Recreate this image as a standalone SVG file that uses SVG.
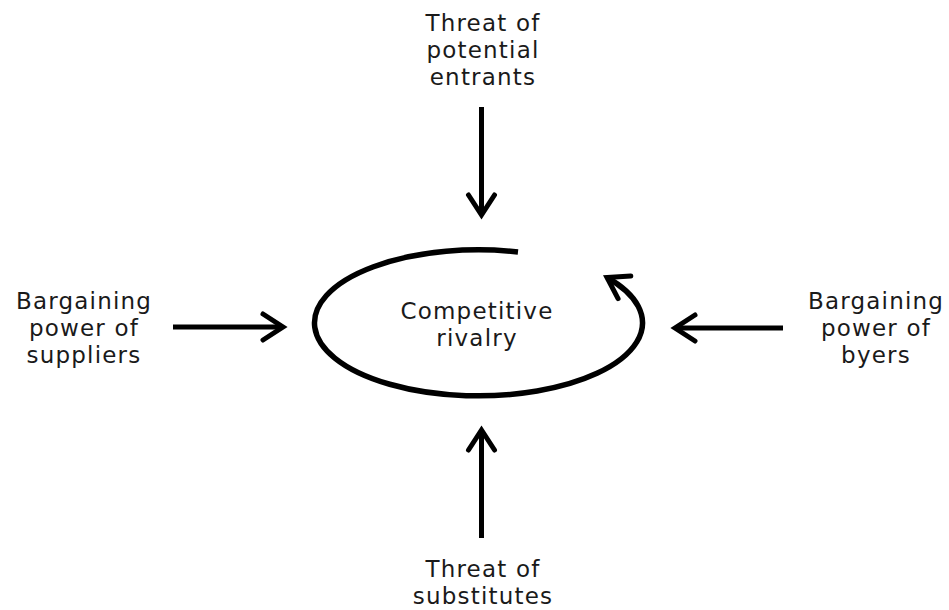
<svg xmlns="http://www.w3.org/2000/svg" width="949" height="610" viewBox="0 0 949 610">
<style>
.t{font-family:"DejaVu Sans","Liberation Sans",sans-serif;font-size:23px;letter-spacing:1.2px;fill:#1a1a1a;text-anchor:middle}
.c{fill:none;stroke:#000;stroke-width:5;stroke-linecap:butt}
</style>
<defs>
<marker id="ah" markerUnits="userSpaceOnUse" orient="auto" overflow="visible" markerWidth="1" markerHeight="1" refX="0" refY="0">
<path d="M-20,-13 L0,0 L-20,13" fill="none" stroke="#000" stroke-width="5" stroke-linecap="round" stroke-linejoin="miter"/>
</marker>
</defs>
<rect width="949" height="610" fill="#fff"/>
<g id="connectors">
<path class="c" d="M481.5,107 L481.5,215" marker-end="url(#ah)"/>
<path class="c" d="M173,327 L283,327" marker-end="url(#ah)"/>
<path class="c" d="M783,328 L675,328" marker-end="url(#ah)"/>
<path class="c" d="M481.5,538 L481.5,430" marker-end="url(#ah)"/>
<path class="c" style="stroke-width:5.5" d="M518,252 A164,73 0 1,0 607,277.5" marker-end="url(#ah)"/>
</g>
<g id="rivalry">
<text class="t" x="477" y="319">Competitive</text>
<text class="t" x="477" y="346">rivalry</text>
</g>
<g id="entrants">
<text class="t" x="483" y="31">Threat of</text>
<text class="t" x="483" y="58">potential</text>
<text class="t" x="483" y="85">entrants</text>
</g>
<g id="suppliers">
<text class="t" x="84" y="309">Bargaining</text>
<text class="t" x="84" y="336">power of</text>
<text class="t" x="84" y="363">suppliers</text>
</g>
<g id="buyers">
<text class="t" x="876" y="309">Bargaining</text>
<text class="t" x="876" y="336">power of</text>
<text class="t" x="876" y="363">byers</text>
</g>
<g id="substitutes">
<text class="t" x="483" y="577">Threat of</text>
<text class="t" x="483" y="604">substitutes</text>
</g>
</svg>
